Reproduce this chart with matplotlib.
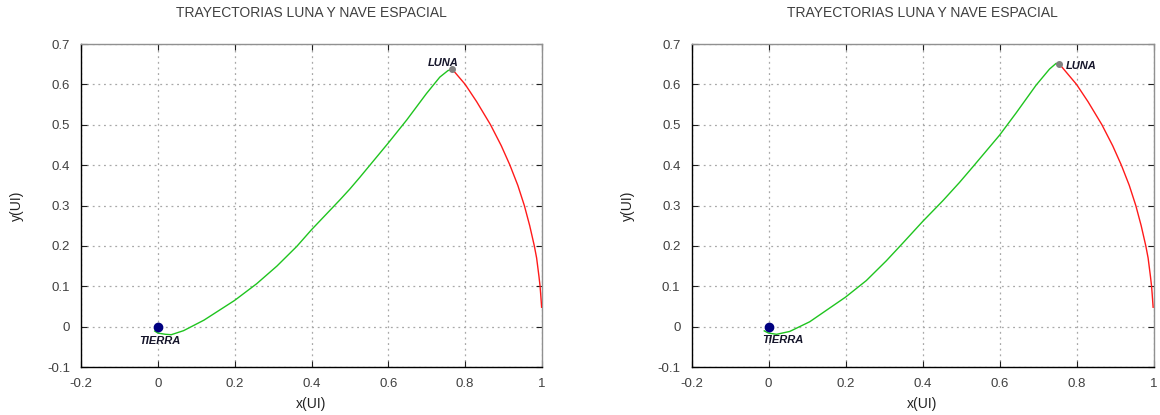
import matplotlib
matplotlib.use("Agg")
import matplotlib.pyplot as plt

plt.rcParams['font.family'] = ['Liberation Sans', 'DejaVu Sans']

# ---- data ----
title_text = "TRAYECTORIAS LUNA Y NAVE ESPACIAL"
xlabel_text = "x(UI)"
ylabel_text = "y(UI)"
xticks = [-0.2, 0, 0.2, 0.4, 0.6, 0.8, 1]
xtick_labels = ["-0.2", "0", "0.2", "0.4", "0.6", "0.8", "1"]
yticks = [-0.1, 0, 0.1, 0.2, 0.3, 0.4, 0.5, 0.6, 0.7]
ytick_labels = ["-0.1", "0", "0.1", "0.2", "0.3", "0.4", "0.5", "0.6", "0.7"]

earth = (0.0, 0.0)

# left panel
ship1_x = [-0.008, 0.0, 0.02, 0.035, 0.067, 0.12, 0.2, 0.257, 0.31, 0.362, 0.4,
           0.457, 0.474, 0.5, 0.526, 0.6, 0.648, 0.699, 0.734, 0.755, 0.766]
ship1_y = [-0.011, -0.016, -0.019, -0.020, -0.010, 0.016, 0.065, 0.106, 0.150, 0.199, 0.240,
           0.297, 0.314, 0.341, 0.370, 0.455, 0.512, 0.577, 0.618, 0.634, 0.638]
moon1 = (0.766, 0.638)

# right panel
ship2_x = [-0.011, 0.0, 0.021, 0.055, 0.107, 0.2, 0.254, 0.306, 0.349, 0.4, 0.453,
           0.496, 0.531, 0.6, 0.643, 0.695, 0.73, 0.747, 0.755]
ship2_y = [-0.0105, -0.016, -0.019, -0.012, 0.012, 0.073, 0.114, 0.163, 0.207, 0.260, 0.312,
           0.357, 0.396, 0.474, 0.529, 0.598, 0.638, 0.652, 0.651]
moon2 = (0.755, 0.651)

# moon orbit (shared part)
orbit_x = [0.8, 0.83, 0.866, 0.894, 0.9165, 0.937, 0.954, 0.968, 0.98, 0.986, 0.992,
           0.995, 0.997, 0.999]
orbit_y = [0.6, 0.557, 0.5, 0.448, 0.4, 0.35, 0.3, 0.25, 0.2, 0.17, 0.125,
           0.1, 0.075, 0.048]

panels = [
    dict(rect=[81 / 1160, 1 - 367 / 415, 461 / 1160, 323 / 415],
         sx=ship1_x, sy=ship1_y, moon=moon1,
         tierra=(0.005, -0.035), luna=(0.744, 0.653), luna_ha='center'),
    dict(rect=[691.5 / 1160, 1 - 367 / 415, 462 / 1160, 323 / 415],
         sx=ship2_x, sy=ship2_y, moon=moon2,
         tierra=(0.038, -0.034), luna=(0.771, 0.646), luna_ha='left'),
]

fig = plt.figure(figsize=(11.6, 4.15), dpi=100)
tick_color = '#404040'
green = '#1fc41f'
red = '#ff1a1a'

for p in panels:
    ax = fig.add_axes(p['rect'])
    ax.set_xlim(-0.2, 1.0)
    ax.set_ylim(-0.1, 0.7)
    ax.set_xticks(xticks)
    ax.set_xticklabels(xtick_labels)
    ax.set_yticks(yticks)
    ax.set_yticklabels(ytick_labels)
    ax.grid(True, color='#a8a8a8', linestyle=(0, (1.5, 3)), linewidth=0.9)
    ax.set_axisbelow(True)
    for side in ['left', 'bottom']:
        ax.spines[side].set_color('#000000')
        ax.spines[side].set_linewidth(1.0)
    for side in ['top', 'right']:
        ax.spines[side].set_color('#909090')
        ax.spines[side].set_linewidth(1.0)
    ax.tick_params(axis='both', direction='in', length=4, width=0.8, color='#202020',
                   labelsize=9.5, labelcolor=tick_color, pad=8,
                   top=True, right=True)

    mx, my = p['moon']
    ax.plot([mx] + orbit_x, [my] + orbit_y, color=red, linewidth=1.0, zorder=3)
    ax.plot(p['sx'], p['sy'], color=green, linewidth=1.0, zorder=3)
    ax.plot([earth[0]], [earth[1]], 'o', color='#000080', markersize=6, zorder=4)
    ax.plot([mx], [my], 'o', color='#808080', markersize=4, zorder=4)

    tx, ty = p['tierra']
    ax.text(tx, ty, "TIERRA", ha='center', va='center', fontsize=8,
            fontweight='bold', fontstyle='italic', color='#15152a', zorder=5)
    lx, ly = p['luna']
    ax.text(lx, ly, "LUNA", ha=p['luna_ha'], va='center', fontsize=8,
            fontweight='bold', fontstyle='italic', color='#15152a', zorder=5)

    x0, y0, w, h = p['rect']
    cx = x0 + w / 2
    fig.text(cx, 1 - 13 / 415, title_text, ha='center', va='center',
             fontsize=10, color='#404040')
    fig.text(cx, 1 - 404 / 415, xlabel_text, ha='center', va='center',
             fontsize=10, color='#222222')
    fig.text(x0 - 64 / 1160, y0 + h / 2, ylabel_text, ha='center', va='center',
             rotation=90, fontsize=10, color='#222222')

fig.savefig("out.png", dpi=100)
